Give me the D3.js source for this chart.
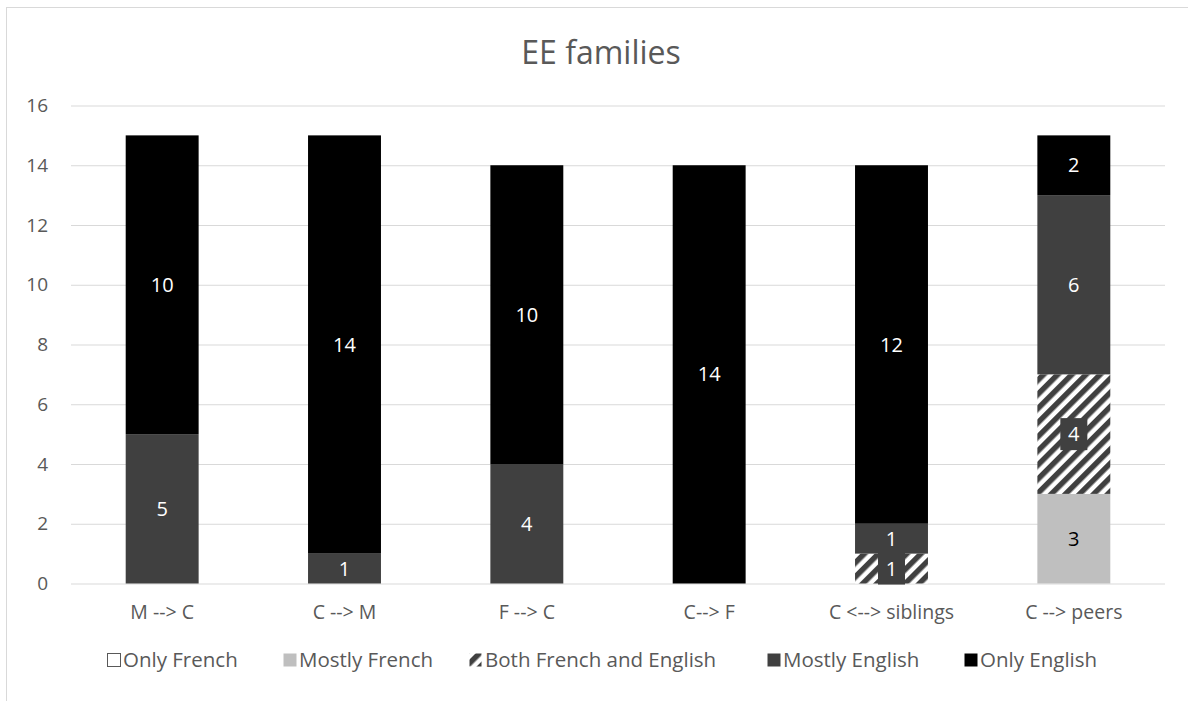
<!DOCTYPE html>
<html>
<head>
<meta charset="utf-8">
<script src="https://cdn.jsdelivr.net/npm/d3@7"></script>
<style>
  body { margin: 0; background: #fff; }
  svg { display: block; font-family: "Open Sans", sans-serif; }
</style>
</head>
<body>
<div id="chart"></div>
<script>
const categorias = ["M --> C", "C --> M", "F --> C", "C--> F", "C <--> siblings", "C --> peers"];
const series = ["Only French", "Mostly French", "Both French and English", "Mostly English", "Only English"];
const onlyFrench = [0, 0, 0, 0, 0, 0];
const mostlyFrench = [0, 0, 0, 0, 0, 3];
const bothFrenchEnglish = [0, 0, 0, 0, 1, 4];
const mostlyEnglish = [5, 1, 4, 0, 1, 6];
const onlyEnglish = [10, 14, 10, 14, 12, 2];
const ticksY = [0, 2, 4, 6, 8, 10, 12, 14, 16];

const valores = [onlyFrench, mostlyFrench, bothFrenchEnglish, mostlyEnglish, onlyEnglish];
const cores = ["#ffffff", "#bfbfbf", "url(#hachura)", "#404040", "#000000"];
const corTexto = ["#000", "#000", "#fff", "#fff", "#fff"];

const largura = 1188, altura = 701;
const svg = d3.select("#chart").append("svg")
  .attr("width", largura)
  .attr("height", altura);

// padrao de listras diagonais
const defs = svg.append("defs");
const pat = defs.append("pattern")
  .attr("id", "hachura")
  .attr("patternUnits", "userSpaceOnUse")
  .attr("width", 10)
  .attr("height", 10)
  .attr("patternTransform", "rotate(45)");
pat.append("rect").attr("width", 10).attr("height", 10).attr("fill", "#fff");
pat.append("rect").attr("width", 5.5).attr("height", 10).attr("fill", "#404040");

// moldura do grafico
svg.append("rect")
  .attr("x", 6.5).attr("y", 7.5)
  .attr("width", 1300).attr("height", 800)
  .attr("fill", "none")
  .attr("stroke", "#d9d9d9");

const x = d3.scaleBand()
  .domain(categorias)
  .range([71, 1165])
  .paddingInner(0.6)
  .paddingOuter(0.3);

const y = d3.scaleLinear()
  .domain([0, 16])
  .range([583.5, 105.5]);

svg.append("text")
  .attr("x", 601).attr("y", 64)
  .attr("text-anchor", "middle")
  .attr("fill", "#595959")
  .attr("font-size", "32px")
  .text("EE families");

// grade e eixo y
const eixoY = svg.append("g")
  .attr("transform", "translate(71,0)")
  .call(d3.axisLeft(y).tickValues(ticksY).tickSize(-(1165 - 71)).tickPadding(23));
eixoY.select(".domain").remove();
eixoY.selectAll(".tick line").attr("stroke", "#d9d9d9");
eixoY.selectAll(".tick text")
  .attr("fill", "#595959")
  .attr("font-size", "19px")
  .attr("font-family", "Open Sans, sans-serif");

// eixo x
const eixoX = svg.append("g")
  .attr("transform", "translate(0,583.5)")
  .call(d3.axisBottom(x).tickSize(0).tickPadding(22));
eixoX.select(".domain").remove();
eixoX.selectAll(".tick text")
  .attr("fill", "#595959")
  .attr("font-size", "19.5px")
  .attr("font-family", "Open Sans, sans-serif");

// pilhas
const tabela = categorias.map((c, i) => {
  const linha = { categoria: c };
  series.forEach((s, j) => linha[s] = valores[j][i]);
  return linha;
});
const pilha = d3.stack().keys(series)(tabela);

const grupos = svg.selectAll("g.serie")
  .data(pilha)
  .enter()
  .append("g")
  .attr("class", "serie");

grupos.selectAll("rect")
  .data(d => d.filter(p => p[1] - p[0] > 0))
  .enter()
  .append("rect")
  .attr("x", d => x(d.data.categoria))
  .attr("y", d => y(d[1]))
  .attr("width", x.bandwidth())
  .attr("height", d => y(d[0]) - y(d[1]))
  .attr("fill", function () { return cores[d3.select(this.parentNode).datum().index]; });

// rotulos
pilha.forEach((s, j) => {
  s.forEach(p => {
    const v = p[1] - p[0];
    if (v <= 0) return;
    const cx = x(p.data.categoria) + x.bandwidth() / 2;
    const cy = y((p[0] + p[1]) / 2);
    if (j === 2) {
      svg.append("rect")
        .attr("x", cx - 13.5).attr("y", cy - 16)
        .attr("width", 27).attr("height", 32)
        .attr("fill", "#404040");
    }
    svg.append("text")
      .attr("x", cx).attr("y", cy)
      .attr("dy", "0.35em")
      .attr("text-anchor", "middle")
      .attr("fill", corTexto[j])
      .attr("font-size", "20px")
      .text(v);
  });
});

// legenda
const legendaX = [107, 283, 469, 767, 964];
const legenda = svg.selectAll("g.legenda")
  .data(series)
  .enter()
  .append("g")
  .attr("class", "legenda")
  .attr("transform", (d, i) => `translate(${legendaX[i]},660)`);

legenda.append("rect")
  .attr("x", 0.5).attr("y", -6.5)
  .attr("width", (d, i) => i === 2 ? 12 : 13)
  .attr("height", 13)
  .attr("fill", (d, i) => cores[i])
  .attr("stroke", (d, i) => i === 0 ? "#595959" : "none");

legenda.append("text")
  .attr("x", 16)
  .attr("y", 0)
  .attr("dy", "0.35em")
  .attr("fill", "#595959")
  .attr("font-size", "20.5px")
  .text(d => d);
</script>
</body>
</html>
